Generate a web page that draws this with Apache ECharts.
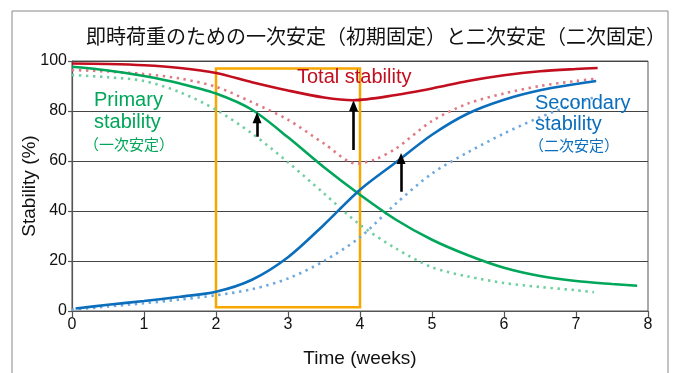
<!DOCTYPE html>
<html>
<head>
<meta charset="utf-8">
<script src="https://cdn.jsdelivr.net/npm/echarts@6/dist/echarts.min.js"></script>
<style>
  html, body { margin: 0; padding: 0; background: #fff; }
  #chart { width: 674px; height: 373px; }
</style>
</head>
<body>
<div id="chart"></div>
<script>
// ---- data ----
const titleText = '即時荷重のための一次安定（初期固定）と二次安定（二次固定）';
const xTicks = [0, 1, 2, 3, 4, 5, 6, 7, 8];
const yTicks = [0, 20, 40, 60, 80, 100];

const totalX = [0, 0.5, 1, 1.5, 2, 2.5, 3, 3.5, 3.9, 4.5, 5, 5.5, 6, 6.5, 7, 7.3];
const totalY = [99, 98.8, 98.3, 97.2, 95.2, 91.5, 88.2, 85.4, 84.3, 86.4, 89, 92, 94.3, 95.9, 96.8, 97.2];

const totalDotX = [0, 0.5, 1, 1.5, 2, 2.5, 3, 3.5, 3.95, 4.2, 4.5, 5, 5.5, 6, 6.5, 7, 7.3];
const totalDotY = [96.4, 95.8, 94.8, 93, 89.7, 83.5, 76.5, 67, 59, 60.5, 65, 76, 83, 87, 90, 92, 93];

const primaryX = [0, 0.5, 1, 1.5, 2, 2.5, 3, 3.5, 4, 4.5, 5, 5.5, 6, 6.5, 7, 7.5, 7.85];
const primaryY = [97.7, 96.2, 94, 91, 87, 80.5, 69.5, 57.5, 46.5, 36.5, 28.5, 22.3, 17.3, 14, 12, 10.8, 10.1];

const primaryDotX = [0, 0.5, 1, 1.5, 2, 2.5, 3, 3.5, 4, 4.5, 5, 5.5, 6, 6.5, 7, 7.25];
const primaryDotY = [94.4, 93.5, 92, 87.5, 80.5, 71, 59.5, 47, 34.5, 25, 17.5, 13.8, 11.2, 9.6, 8.3, 7.5];

const secondaryX = [0.05, 0.5, 1, 1.5, 2, 2.5, 3, 3.5, 4, 4.5, 5, 5.5, 6, 6.5, 7, 7.28];
const secondaryY = [1, 2.5, 4, 5.7, 7.7, 12.5, 21.5, 34.5, 48.5, 59.5, 70.5, 79, 84.5, 88.3, 90.8, 92];

const secondaryDotX = [0, 0.5, 1, 1.5, 2, 2.5, 3, 3.5, 4, 4.5, 5, 5.5, 6, 6.5, 7, 7.25];
const secondaryDotY = [0.5, 1.8, 3.1, 4.6, 6.3, 8.7, 13, 20, 29.5, 43, 55, 63.5, 71, 77.5, 83, 85.5];

const arrowX = [2.57, 3.91, 4.57];
const arrowFrom = [69.7, 64.4, 47.7];
const arrowTo = [77.3, 82.1, 61];

const boxX = [2, 4];
const boxY = [1.5, 97];

// ---- styles ----
const RED = '#c20e1f', GREEN = '#00a659', BLUE = '#0a6ebd', ORANGE = '#f7a800';
const RED_D = '#e07a82', GREEN_D = '#6fcfa0', BLUE_D = '#6ea8dc';
const LATIN = "'Liberation Sans', Arial, sans-serif";
const CJK = "'Noto Sans CJK JP', 'Liberation Sans', sans-serif";

function pairs(xs, ys) { return xs.map((x, i) => [x, ys[i]]); }

function lineSeries(name, xs, ys, color, dotted, z) {
  return {
    name: name, type: 'line', data: pairs(xs, ys), smooth: 0.3,
    symbol: 'none', silent: true, z: z,
    lineStyle: dotted
      ? { color: color, width: 2.6, type: [2.4, 4.6], cap: 'butt' }
      : { color: color, width: 2.6 }
  };
}

const series = [
  lineSeries('totalDot', totalDotX, totalDotY, RED_D, true, 2),
  lineSeries('primaryDot', primaryDotX, primaryDotY, GREEN_D, true, 2),
  lineSeries('secondaryDot', secondaryDotX, secondaryDotY, BLUE_D, true, 2),
  lineSeries('primary', primaryX, primaryY, GREEN, false, 4),
  lineSeries('secondary', secondaryX, secondaryY, BLUE, false, 4),
  lineSeries('total', totalX, totalY, RED, false, 5),
  {
    name: 'annot', type: 'line', data: [], symbol: 'none', silent: true, z: 6,
    markArea: {
      silent: true,
      itemStyle: { color: 'rgba(0,0,0,0)', borderColor: ORANGE, borderWidth: 2.5 },
      data: [[{ coord: [boxX[0], boxY[0]] }, { coord: [boxX[1], boxY[1]] }]]
    },
    markLine: {
      silent: true, animation: false,
      symbol: ['none', 'triangle'], symbolSize: [9, 11],
      label: { show: false },
      lineStyle: { color: '#000', width: 2.6, type: 'solid' },
      data: arrowX.map((x, i) => [{ coord: [x, arrowFrom[i]] }, { coord: [x, arrowTo[i]] }])
    }
  }
];

const chart = echarts.init(document.getElementById('chart'), null, { renderer: 'canvas' });
chart.setOption({
  animation: false,
  backgroundColor: '#fff',
  grid: { left: 72, right: 26, top: 61, bottom: 62, show: true, borderColor: '#555', borderWidth: 1 },
  xAxis: {
    type: 'value', min: xTicks[0], max: xTicks[xTicks.length - 1], interval: 1,
    name: 'Time (weeks)', nameLocation: 'middle', nameGap: 38, nameMoveOverlap: false,
    nameTextStyle: { fontSize: 19, color: '#111', fontFamily: LATIN },
    axisLine: { lineStyle: { color: '#555', width: 1.2 } },
    axisTick: { show: true, length: 6, lineStyle: { color: '#555', width: 1.2 } },
    axisLabel: { fontSize: 16, color: '#111', fontFamily: LATIN, margin: 6 },
    splitLine: { show: false }
  },
  yAxis: {
    type: 'value', min: yTicks[0], max: yTicks[yTicks.length - 1], interval: 20,
    name: 'Stability (%)', nameLocation: 'middle', nameGap: 33, nameMoveOverlap: false,
    nameTextStyle: { fontSize: 19, color: '#111', fontFamily: LATIN },
    axisLine: { show: true, lineStyle: { color: '#555', width: 1.2 } },
    axisTick: { show: true, length: 4, lineStyle: { color: '#555', width: 1.2 } },
    axisLabel: { fontSize: 16, color: '#111', fontFamily: LATIN, margin: 5 },
    splitLine: { show: true, lineStyle: { color: '#444', width: 1.2 } }
  },
  graphic: [
    { type: 'rect', shape: { x: 12, y: 11, width: 656, height: 380 }, style: { fill: 'none', stroke: '#888', lineWidth: 1 }, z: -1 },
    { type: 'text', left: 86, top: 26, style: { text: titleText, fontSize: 20, fill: '#111', fontFamily: CJK } },
    { type: 'text', x: 297, y: 77, style: { text: 'Total stability', fontSize: 20, fill: RED, fontFamily: LATIN, textVerticalAlign: 'middle' }, z: 10 },
    { type: 'text', x: 94, y: 100, style: { text: 'Primary', fontSize: 20, fill: GREEN, fontFamily: LATIN, textVerticalAlign: 'middle' }, z: 10 },
    { type: 'text', x: 94, y: 122, style: { text: 'stability', fontSize: 20, fill: GREEN, fontFamily: LATIN, textVerticalAlign: 'middle' }, z: 10 },
    { type: 'text', x: 84, y: 144, style: { text: '（一次安定）', fontSize: 15, fill: GREEN, fontFamily: CJK, textVerticalAlign: 'middle' }, z: 10 },
    { type: 'text', x: 535, y: 103, style: { text: 'Secondary', fontSize: 20, fill: BLUE, fontFamily: LATIN, textVerticalAlign: 'middle' }, z: 10 },
    { type: 'text', x: 535, y: 124, style: { text: 'stability', fontSize: 20, fill: BLUE, fontFamily: LATIN, textVerticalAlign: 'middle' }, z: 10 },
    { type: 'text', x: 529, y: 145, style: { text: '（二次安定）', fontSize: 15, fill: BLUE, fontFamily: CJK, textVerticalAlign: 'middle' }, z: 10 }
  ],
  series: series
});
</script>
</body>
</html>
